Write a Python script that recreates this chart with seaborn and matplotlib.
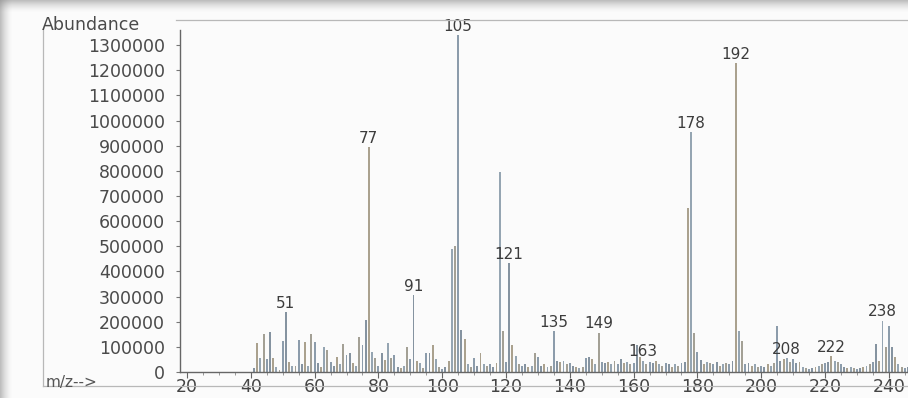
import matplotlib
matplotlib.use("Agg")
import matplotlib.pyplot as plt
from matplotlib.lines import Line2D
from matplotlib.patches import Rectangle
from matplotlib.ticker import MultipleLocator, FuncFormatter
import seaborn as sns
import pandas as pd

# m/z values of the scanned range and their abundances
mz = list(range(41, 247))
abundance = [
    15000, 115000, 55000, 150000, 50000, 160000, 55000, 20000, 8000, 125000,      # 41-50
    237000, 40000, 22000, 25000, 128000, 30000, 118000, 25000, 150000, 120000,    # 51-60
    35000, 20000, 100000, 87000, 40000, 25000, 60000, 30000, 112000, 67000,       # 61-70
    75000, 36000, 25000, 140000, 107000, 207000, 895000, 80000, 55000, 25000,     # 71-80
    75000, 48000, 114000, 55000, 67000, 20000, 15000, 25000, 100000, 50000,       # 81-90
    305000, 45000, 35000, 15000, 75000, 75000, 107000, 50000, 20000, 10000,       # 91-100
    20000, 45000, 490000, 500000, 1340000, 166000, 130000, 30000, 20000, 55000,   # 101-110
    25000, 77000, 30000, 25000, 30000, 20000, 35000, 795000, 163000, 40000,       # 111-120
    432000, 107000, 63000, 30000, 25000, 30000, 20000, 25000, 74000, 58000,       # 121-130
    25000, 30000, 20000, 25000, 163000, 44000, 40000, 45000, 30000, 35000,        # 131-140
    25000, 20000, 15000, 20000, 55000, 58000, 50000, 30000, 156000, 40000,        # 141-150
    35000, 40000, 30000, 45000, 30000, 50000, 35000, 40000, 30000, 35000,         # 151-160
    107000, 60000, 45000, 30000, 40000, 35000, 45000, 30000, 25000, 35000,        # 161-170
    30000, 20000, 30000, 25000, 35000, 40000, 652000, 954000, 156000, 80000,      # 171-180
    47000, 30000, 40000, 35000, 30000, 40000, 25000, 30000, 35000, 30000,         # 181-190
    45000, 1229000, 163000, 125000, 30000, 35000, 25000, 30000, 20000, 25000,     # 191-200
    20000, 30000, 25000, 35000, 183000, 45000, 50000, 55000, 40000, 50000,        # 201-210
    35000, 40000, 20000, 15000, 10000, 15000, 20000, 25000, 30000, 35000,         # 211-220
    40000, 63000, 45000, 40000, 30000, 20000, 15000, 20000, 15000, 10000,         # 221-230
    15000, 20000, 25000, 30000, 40000, 110000, 45000, 204000, 100000, 183000,     # 231-240
    100000, 60000, 30000, 20000, 15000, 20000,                                    # 241-246
]

# peaks annotated with their m/z
labelled_peaks = [51, 77, 91, 105, 121, 135, 149, 163, 178, 192, 208, 222, 238]

x_ticks = list(range(20, 260, 20))
y_ticks = list(range(0, 1400000, 100000))

df = pd.DataFrame({"mz": mz, "abundance": abundance})

W, H = 908, 398
fig = plt.figure(figsize=(W / 100, H / 100), dpi=100)
fig.patch.set_facecolor("#fbfbfb")


def fx(px):
    return px / W


def fy(py):
    return 1 - py / H


ax = fig.add_axes([fx(180), fy(372), fx(908) - fx(180), fy(30) - fy(372)])
ax.set_facecolor("none")

sns.barplot(data=df, x="mz", y="abundance", native_scale=True, width=0.6,
            color="#8593a0", ax=ax, errorbar=None, saturation=1)

tints = ["#8593a0", "#aaa18e", "#95a5b2", "#a3a095", "#8c9cab"]
for i, bar in enumerate(ax.patches):
    bar.set_facecolor(tints[i % len(tints)])
    bar.set_edgecolor("none")

ax.set_xlim(17.8, 246)
ax.set_ylim(0, 1360000)

ax.set_xticks(x_ticks)
ax.xaxis.set_minor_locator(MultipleLocator(5))
ax.set_yticks(y_ticks)
ax.yaxis.set_major_formatter(FuncFormatter(lambda v, p: f"{int(v)}"))

ax.tick_params(axis="x", which="major", length=4, width=0.8, color="#666666",
               labelsize=12.5, labelcolor="#444444", pad=0)
ax.tick_params(axis="x", which="minor", length=2, width=0.6, color="#888888")
ax.tick_params(axis="y", which="major", length=3, width=0.8, color="#777777",
               labelsize=12.5, labelcolor="#4a4a4a", pad=8)
ax.set_xlabel("")
ax.set_ylabel("")

for side in ("top", "right"):
    ax.spines[side].set_visible(False)
for side in ("left", "bottom"):
    ax.spines[side].set_color("#666666")
    ax.spines[side].set_linewidth(1.0)

# m/z annotations above the labelled peaks
lookup = dict(zip(mz, abundance))
for m in labelled_peaks:
    ax.annotate(str(m), xy=(m, lookup[m]), xytext=(0, 1.0),
                textcoords="offset points", ha="center", va="bottom",
                fontsize=11, color="#3c3c3c", annotation_clip=False)

# printout frame and axis captions
frame_kw = dict(color="#b8b8b8", lw=0.9, transform=fig.transFigure)
fig.add_artist(Line2D([fx(176), fx(908)], [fy(20), fy(20)], **frame_kw))
fig.add_artist(Line2D([fx(43), fx(43)], [fy(30), fy(386)], **frame_kw))
fig.add_artist(Line2D([fx(43), fx(908)], [fy(386), fy(386)], **frame_kw))

fig.text(fx(42), fy(25), "Abundance", ha="left", va="center",
         fontsize=12.5, color="#4a4a4a")
fig.text(fx(46), fy(382), "m/z-->", ha="left", va="center",
         fontsize=11, color="#555555")

# shaded page edges along the top and left
for k in range(12):
    a = 0.55 * (1 - k / 12) ** 1.6
    fig.add_artist(Rectangle((0, fy(k + 1)), 1, 1 / H, transform=fig.transFigure,
                             facecolor="#8c8c8c", edgecolor="none", alpha=a))
    fig.add_artist(Rectangle((fx(k), 0), 1 / W, 1, transform=fig.transFigure,
                             facecolor="#8c8c8c", edgecolor="none", alpha=a))

fig.savefig("out.png", dpi=100, facecolor=fig.get_facecolor())
